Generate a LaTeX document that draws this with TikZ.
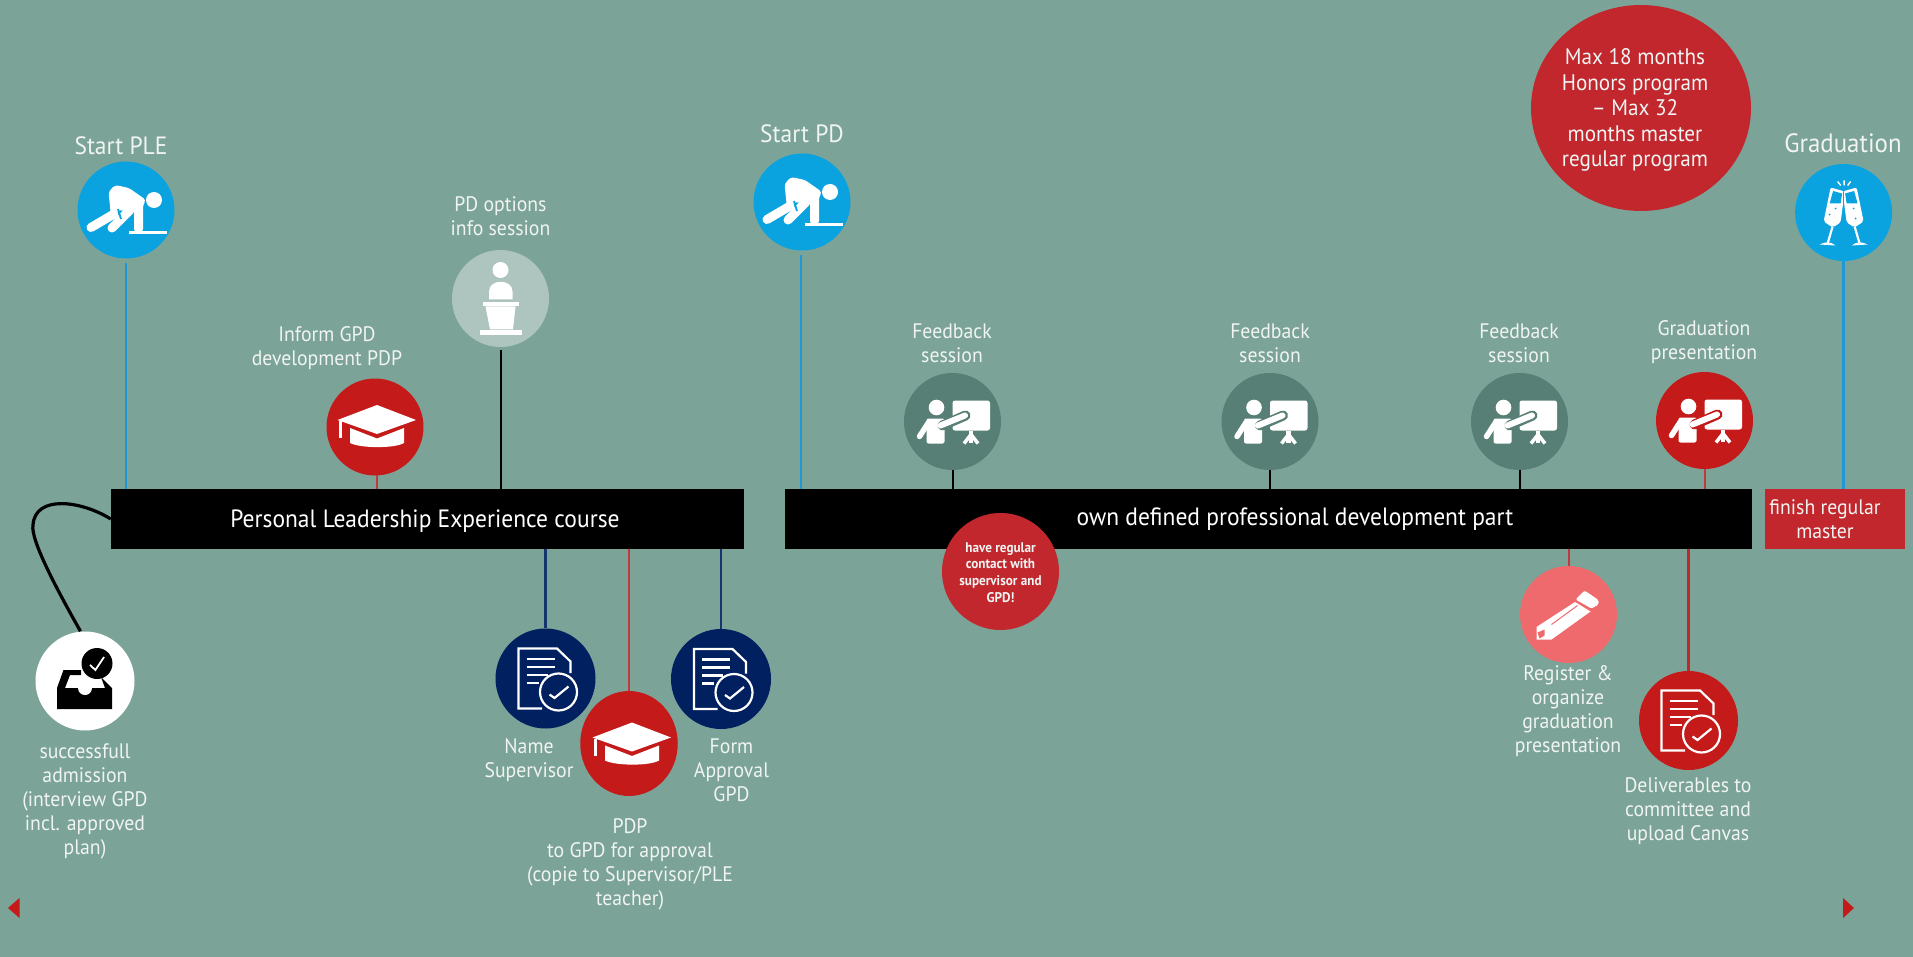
\documentclass[tikz,border=0pt]{standalone}
\usepackage{fontspec}
\setmainfont{PT Sans}[FakeStretch=0.94]
\usetikzlibrary{shapes.geometric,calc}
\definecolor{bgc}{HTML}{7CA397}
\definecolor{skyc}{HTML}{0BA3DF}
\definecolor{skyl}{HTML}{1D9AD6}
\definecolor{redc}{HTML}{C41A1A}
\definecolor{redb}{HTML}{C1272D}
\definecolor{redl}{HTML}{BE3A3E}
\definecolor{tealc}{HTML}{577F75}
\definecolor{navyc}{HTML}{00205F}
\definecolor{navyl}{HTML}{14356E}
\definecolor{pinkc}{HTML}{EE6A6C}
\definecolor{greyc}{HTML}{AEC4BE}
\definecolor{txt}{HTML}{F0F4F2}
\newcommand\runnericon[2]{\begin{scope}[shift={(#1,#2)},white]
 \fill (28,-10) circle (8pt);
 \draw[line width=2.6pt] (3,22.3) -- (41,22.3);
 \fill[rounded corners=3pt] (-15,6) -- (-17.5,-18) -- (-11,-25) -- (3,-22) -- (20,-10) -- (17,-5) -- (17,22) -- (8,22) -- (8,0) -- (6,2) -- (-8,0) -- cycle;
 \draw[line width=9pt,line cap=round] (-12,4) -- (-35,17.5);
 \draw[line width=9pt,line cap=round] (4,0) -- (-14,18);
 \draw[skyc,line width=1.8pt] (-8,-1) -- (-5,9);
\end{scope}}
\newcommand\presenticon[3]{\begin{scope}[shift={(#1,#2)}]
 \fill[white] (-16,-14) circle (7.8pt);
 \fill[white,rounded corners=2pt] (-26,-3) rectangle (-8,22);
 \draw[white,line width=5.5pt,line cap=round] (-24,1) -- (-33,15);
 \fill[white,rounded corners=2.5pt] (0,-21) rectangle (37.5,9);
 \draw[white,line width=4.5pt] (18.5,9) -- (18.5,21);
 \draw[white,line width=3.5pt] (18.5,13) -- (11.5,22);
 \draw[white,line width=3.5pt] (18.5,13) -- (25.5,22);
 \draw[#3,line width=10pt,line cap=round] (-10,4) -- (13,-6);
 \draw[white,line width=6pt,line cap=round] (-12,4) -- (12.5,-6);
\end{scope}}
\newcommand\capicon[2]{\begin{scope}[shift={(#1,#2)}]
 \fill[white] (2,-21.5) -- (41,-6.5) -- (2,7.5) -- (-37.5,-6.5) -- cycle;
 \fill[white] (-25,1.5) -- (2,12) -- (29,1.5) -- (29,16.5) .. controls (20,22) and (-14,22) .. (-25,16.5) -- cycle;
 \draw[white,line width=2.6pt] (-34.5,-5.5) -- (-34.5,11.5);
\end{scope}}
\newcommand\docicon[3]{\begin{scope}[shift={(#1,#2)},white,line width=2.2pt]
 \draw (-3.5,30) -- (-27,30) -- (-27,-30) -- (11.5,-30) -- (25,-17) -- (25,-5.5);
 \draw (13,13.5) circle (18.5pt);
 \draw (-19,-19.5) -- (9,-19.5);
 \draw (-19,-11.5) -- (9,-11.5);
 \draw (-19,-3.5) -- (2,-3.5);
 \draw (-19,4.5) -- (-7,4.5);
 \draw (4,16) -- (9,19.5) -- (23,8);
\end{scope}}
\newcommand\lecternicon[2]{\begin{scope}[shift={(#1,#2)},white]
 \fill (0,-28.5) circle (8pt);
 \fill (-11.5,1) -- (-11.5,-7) .. controls (-11.5,-20) and (12,-20) .. (12,-7) -- (12,1) -- cycle;
 \fill (-18,3.5) rectangle (18.5,8);
 \fill (-15,8) -- (15,8) -- (12.5,31) -- (-10.5,31) -- cycle;
 \fill (-21,32) rectangle (21,36.5);
\end{scope}}
\newcommand\inboxicon[2]{\begin{scope}[shift={(#1,#2)}]
 \fill[black] (-28,7) -- (-21.5,-11) -- (-4,-11) -- (-4,-6) -- (-15,-6) -- (-20,7) -- (20,7) -- (16,-4) -- (27,7) -- (27,28) -- (-28,28) -- cycle;
 \fill[white] (-7,7) arc[start angle=180,end angle=360,radius=7pt];
 \fill[black] (12,-17.5) circle (15.5pt);
 \draw[white,line width=1.8pt] (5,-16) -- (10.4,-11) -- (19,-24);
\end{scope}}
\newcommand\pencilicon[2]{\begin{scope}[shift={(#1,#2)}]
 \fill[white] (-32,25) -- (-32,12.5) -- (6.5,-12.5) -- (22,-3) -- (-17,25) -- cycle;
 \fill[white,rounded corners=1.5pt] (7,-15) -- (16,-24) -- (30,-14.5) -- (30,-10) -- (23,-6) -- cycle;
 \fill[pinkc] (-31,18) -- (-24,15) -- (-24,21) -- (-29,24) -- cycle;
 \draw[pinkc,line width=1pt] (-17,10) -- (9,-9);
\end{scope}}
\newcommand\glassicon[2]{\begin{scope}[shift={(#1,#2)},white]
 \fill[rounded corners=2pt] (-13,-25) -- (1,-21) -- (-3,10) -- (-11,15) -- (-20,9) -- cycle;
 \fill[skyc] (-10.5,-21.5) -- (-1.5,-19) -- (-3,-9) -- (-14,-9) -- cycle;
 \draw[line width=2.2pt] (-11,14) -- (-16,31);
 \fill (-24,32) .. controls (-18,29) and (-13,29) .. (-8,33) -- cycle;
 \fill[rounded corners=2pt] (13,-25) -- (-1,-21) -- (3,10) -- (11,15) -- (20,9) -- cycle;
 \fill[skyc] (10.5,-21.5) -- (1.5,-19) -- (3,-9) -- (14,-9) -- cycle;
 \draw[line width=2.2pt] (11,14) -- (16,31);
 \fill (24,32) .. controls (18,29) and (13,29) .. (8,33) -- cycle;
 \draw[skyc,line width=1.2pt] (0,-20) -- (0,12);
 \fill[skyc] (-14,2) circle (1.1pt) (-8,-4) circle (0.9pt) (12,6) circle (1.1pt) (10,-4) circle (0.9pt);
 \draw[line width=1.4pt] (-6,-31) -- (-3,-27) (0.5,-32) -- (0.5,-27) (7,-31) -- (4,-27);
\end{scope}}
\tikzset{
 bubble/.style={circle,minimum size=97pt,inner sep=0pt,draw=none},
 lbl/.style={text=txt,align=center,inner sep=0pt,font=\fontsize{21}{24}\selectfont},
 maxl/.style={text=txt,align=center,inner sep=0pt,font=\fontsize{22.5}{25.5}\selectfont},
 bigl/.style={text=txt,align=center,inner sep=0pt,font=\fontsize{25}{25}\selectfont},
 barbox/.style={fill=black,text=white,inner sep=0pt,minimum height=60pt,font=\fontsize{25}{28}\selectfont},
 link/.style={line width=2.4pt},
 thinlink/.style={line width=2pt},
}
\begin{document}
\begin{tikzpicture}[x=1pt,y=-1pt]
\useasboundingbox (0,0) rectangle (1913,957);
\fill[bgc] (0,0) rectangle (1913,957);
% bars
\node[barbox,minimum width=633pt] (bar1) at (427.5,519) {};
\node[text=white,inner sep=0pt,font=\fontsize{25}{28}\selectfont] (bar1t) at (425,521) {Personal Leadership Experience course};
\node[barbox,minimum width=967pt] (bar2) at (1268.5,519) {};
\node[text=white,inner sep=0pt,font=\fontsize{25}{28}\selectfont] (bar2t) at (1295,519) {own defined professional development part};
\node[fill=redb,inner sep=0pt,minimum width=140pt,minimum height=60pt] (fin) at (1835,519) {};
\node[lbl] (fint) at (1825,519.5) {finish regular\\master};
% circles
\node[bubble,fill=skyc] (sple) at (126,210) {};
\node[bubble,fill=redc] (igpd) at (375,427) {};
\node[bubble,fill=greyc] (pdo) at (500.5,298.5) {};
\node[bubble,fill=skyc] (spd) at (802,202) {};
\node[bubble,fill=tealc] (fb1) at (952.5,421.5) {};
\node[bubble,fill=tealc] (fb2) at (1270,421.5) {};
\node[bubble,fill=tealc] (fb3) at (1519.5,421.5) {};
\node[bubble,fill=redc] (gpr) at (1704.5,420.5) {};
\node[bubble,fill=skyc] (grad) at (1843.6,212.5) {};
\node[bubble,fill=pinkc] (reg) at (1568.5,614.5) {};
\node[bubble,fill=redc,minimum size=99pt] (del) at (1688.5,720.5) {};
\node[bubble,fill=white,minimum size=99pt] (adm) at (85,681) {};
\node[bubble,fill=navyc,minimum size=100pt] (nsu) at (545.5,678.5) {};
\node[bubble,fill=navyc,minimum size=100pt] (fap) at (721,679) {};
\node[ellipse,fill=redc,minimum width=97.5pt,minimum height=105pt,inner sep=0pt] (pdp) at (629,743.5) {};
\node[ellipse,fill=redb,minimum width=220pt,minimum height=206pt,inner sep=0pt] (maxc) at (1641,108) {};
\node[circle,fill=redb,minimum size=117pt,inner sep=0pt] (hav) at (1000.5,571.5) {};
% connectors
\draw[link,skyl,shorten <=4pt] (sple.south) -- (sple.south |- bar1.north);
\coordinate (igpdf) at ($(igpd.south)+(2,-1)$);
\draw[thinlink,redl] (igpdf) -- (igpdf |- bar1.north);
\draw[thinlink,black,shorten <=3pt] (pdo.south) -- (pdo.south |- bar1.north);
\coordinate (spdf) at ($(spd.south)+(-1,0)$);
\draw[link,skyl,shorten <=4pt] (spdf) -- (spdf |- bar2.north);
\draw[thinlink,black] (fb1.south) -- (fb1.south |- bar2.north);
\draw[thinlink,black] (fb2.south) -- (fb2.south |- bar2.north);
\draw[thinlink,black] (fb3.south) -- (fb3.south |- bar2.north);
\draw[thinlink,redl] (gpr.south) -- (gpr.south |- bar2.north);
\draw[link,skyl] (grad.south) -- (grad.south |- fin.north);
\draw[thinlink,redl] (reg.north) -- (reg.north |- bar2.south);
\draw[link,redb] (del.north) -- (del.north |- bar2.south);
\draw[link,navyl] (nsu.north) -- (nsu.north |- bar1.south);
\draw[link,navyl] (fap.north) -- (fap.north |- bar1.south);
\draw[link,redl] (pdp.north) -- (pdp.north |- bar1.south);
\coordinate (admt) at ($(adm.north)+(-4.5,0)$);
\draw[black,line width=3.2pt] (admt) .. controls (60,595) and (30,540) .. (33,525) .. controls (35,495) and (80,500) .. (bar1.west);
% icons
\runnericon{126}{210}
\runnericon{802}{202}
\capicon{375}{426.5}
\capicon{630}{744}
\lecternicon{500.5}{298.5}
\presenticon{952.5}{421.5}{tealc}
\presenticon{1270}{421.5}{tealc}
\presenticon{1519.5}{421.5}{tealc}
\presenticon{1704.5}{420.5}{redc}
\glassicon{1843.6}{212.5}
\pencilicon{1568.5}{614.5}
\docicon{1688.5}{720.5}{redc}
\docicon{545.5}{678.5}{navyc}
\docicon{721}{679}{navyc}
\inboxicon{85}{681}
% labels
\node[bigl] (t1) at (121,146) {Start PLE};
\node[bigl] (t2) at (802,134) {Start PD};
\node[bigl,font=\fontsize{26.5}{26.5}\selectfont] (t3) at (1843,143) {Graduation};
\node[lbl] (t4) at (327,348.5) {Inform GPD\\development PDP};
\node[lbl] (t5) at (500.5,216.5) {PD options\\info session};
\node[lbl] (t6) at (952,343.5) {Feedback\\session};
\node[lbl] (t7) at (1270,343.5) {Feedback\\session};
\node[lbl] (t8) at (1519,343.5) {Feedback\\session};
\node[lbl] (t9) at (1704,342) {Graduation\\presentation};
\node[maxl] (t10) at (1635,110) {Max 18 months\\Honors program\\– Max 32\\months master\\regular program};
\node[lbl] (t11) at (85,801) {successfull\\admission\\(interview GPD\\incl. approved\\plan)};
\node[lbl] (t12) at (529,760) {Name\\Supervisor};
\node[lbl] (t13) at (731.5,770.5) {Form\\Approval\\GPD};
\node[lbl] (t14) at (630,864) {PDP\\to GPD for approval\\(copie to Supervisor/PLE\\teacher)};
\node[lbl] (t15) at (1568,711) {Register \&\\organize\\graduation\\presentation};
\node[lbl] (t16) at (1688,811) {Deliverables to\\committee and\\upload Canvas};
\node[text=txt,align=center,inner sep=0pt,font=\fontsize{14}{16.7}\selectfont\bfseries] (t17) at (1000.5,572.5) {have regular\\contact with\\supervisor and\\GPD!};
% page arrows
\fill[redc] (8,908) -- (19.5,898) -- (19.5,918) -- cycle;
\fill[redc] (1854,908) -- (1843,898) -- (1843,918) -- cycle;
\end{tikzpicture}
\end{document}
